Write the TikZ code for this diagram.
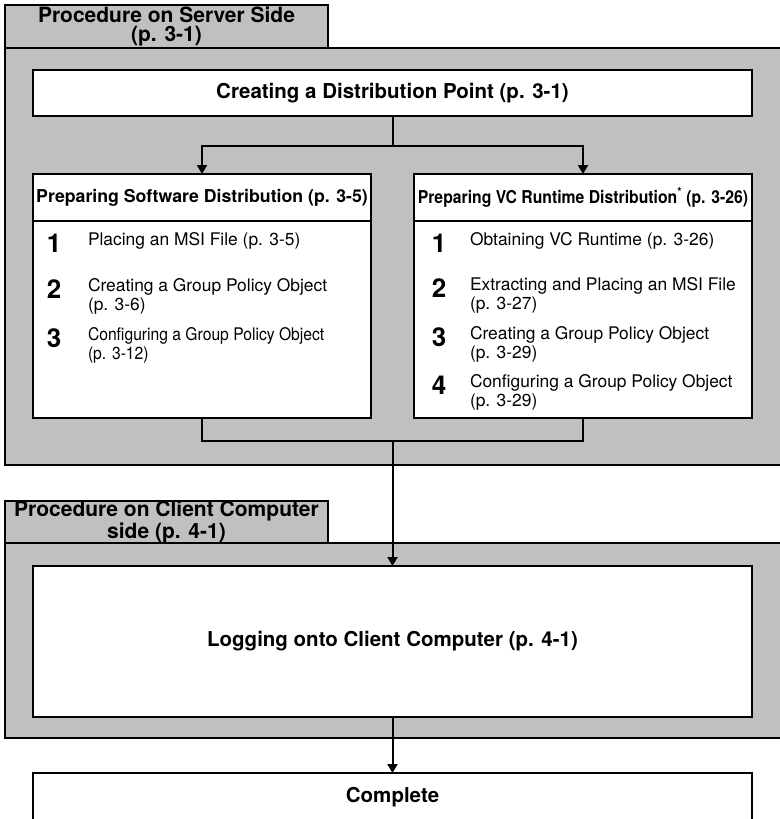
\documentclass[tikz,border=0pt]{standalone}
\usepackage{fontspec}
\setmainfont{TeX Gyre Heros}
\usepackage{graphicx}
\usetikzlibrary{arrows.meta}
\definecolor{panelgray}{RGB}{192,192,192}
\tikzset{
  every node/.style={inner sep=0pt, outer sep=0pt},
  panelbox/.style={draw=black, line width=1.8pt, fill=panelgray},
  whitebox/.style={draw=black, line width=1.8pt, fill=white},
  tabtext/.style={font=\fontsize{21}{19}\selectfont\bfseries, align=center},
  bigtext/.style={font=\fontsize{20.5}{25}\selectfont\bfseries},
  headtext/.style={font=\fontsize{17.7}{20}\selectfont\bfseries},
  numtext/.style={font=\fontsize{26}{30}\selectfont\bfseries, anchor=base},
  itemtext/.style={font=\fontsize{17.4}{20}\selectfont, anchor=base west},
  link/.style={draw=black, line width=2pt},
  arrowlink/.style={link, -{Triangle[width=10pt,length=9pt]}}
}
\begin{document}
\begin{tikzpicture}[x=1pt, y=-1pt]
\useasboundingbox (0,0) rectangle (779,819);

% ---------- server side ----------
\node[panelbox, minimum width=785pt, minimum height=417pt] (srvpanel) at (397.5,256.5) {};
\node[panelbox, tabtext, minimum width=323pt, minimum height=43pt] (srvtab) at (166.5,26.5) {Procedure on Server Side\\(p. 3-1)};
\node[whitebox, bigtext, minimum width=719pt, minimum height=46pt] (dist) at (392.5,93) {Creating a Distribution Point (p. 3-1)};

\node[whitebox, minimum width=338pt, minimum height=244pt] (swbox) at (202,296) {};
\node[whitebox, headtext, minimum width=338pt, minimum height=47pt] (swhead) at (202,197.5) {Preparing Software Distribution (p. 3-5)};

\node[whitebox, minimum width=338pt, minimum height=244pt] (vcbox) at (583,296) {};
\node[whitebox, headtext, minimum width=338pt, minimum height=47pt] (vchead) at (583,197.5) {\scalebox{0.89}[1]{Preparing VC Runtime Distribution\textsuperscript{*} (p. 3-26)}};

% left items
\node[numtext] (sw1n) at (54,252) {1};
\node[itemtext] (sw1t) at (88,245) {Placing an MSI File (p. 3-5)};
\node[numtext] (sw2n) at (54,298) {2};
\node[itemtext] (sw2a) at (88,291) {Creating a Group Policy Object};
\node[itemtext] (sw2b) at (88,310) {(p. 3-6)};
\node[numtext] (sw3n) at (54,347) {3};
\node[itemtext] (sw3a) at (88,340) {\scalebox{0.9}[1]{Configuring a Group Policy Object}};
\node[itemtext] (sw3b) at (88,359) {\scalebox{0.9}[1]{(p. 3-12)}};

% right items
\node[numtext] (vc1n) at (439,252) {1};
\node[itemtext] (vc1t) at (470,245) {Obtaining VC Runtime (p. 3-26)};
\node[numtext] (vc2n) at (439,297) {2};
\node[itemtext] (vc2a) at (470,290) {Extracting and Placing an MSI File};
\node[itemtext] (vc2b) at (470,309) {(p. 3-27)};
\node[numtext] (vc3n) at (439,346) {3};
\node[itemtext] (vc3a) at (470,339) {Creating a Group Policy Object};
\node[itemtext] (vc3b) at (470,358) {(p. 3-29)};
\node[numtext] (vc4n) at (439,394) {4};
\node[itemtext] (vc4a) at (470,387) {Configuring a Group Policy Object};
\node[itemtext] (vc4b) at (470,406) {(p. 3-29)};

% ---------- client side ----------
\node[panelbox, minimum width=785pt, minimum height=195pt] (clpanel) at (397.5,640.5) {};
\node[panelbox, tabtext, minimum width=323pt, minimum height=42pt] (cltab) at (166.5,522) {Procedure on Client Computer\\side (p. 4-1)};
\node[whitebox, bigtext, minimum width=719pt, minimum height=151pt] (logon) at (392.5,641.5) {Logging onto Client Computer (p. 4-1)};

\node[whitebox, bigtext, minimum width=719pt, minimum height=48pt] (done) at (392.5,797) {Complete};

% ---------- connectors ----------
\coordinate (split) at (392.5,146);
\draw[link] (dist.south) -- (split);
\draw[arrowlink] (split) -| (swhead.north);
\draw[arrowlink] (split) -| (vchead.north);
\coordinate (merge) at (392.5,441);
\draw[link] (swbox.south) |- (merge) -| (vcbox.south);
\draw[arrowlink] (merge) -- (logon.north);
\draw[arrowlink] (logon.south) -- (done.north);
\end{tikzpicture}
\end{document}
